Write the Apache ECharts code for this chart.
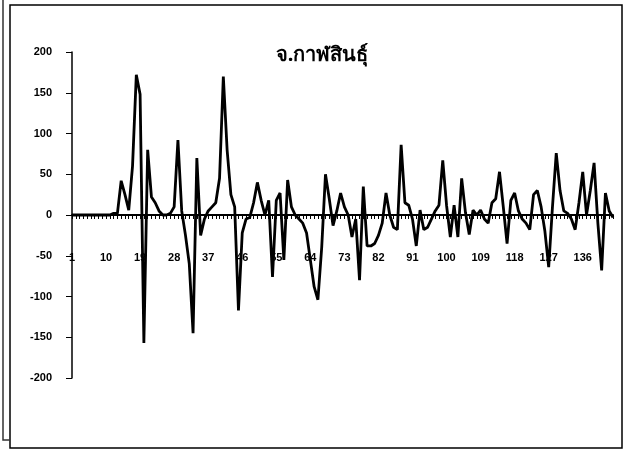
<!DOCTYPE html>
<html><head><meta charset="utf-8">
<script src="https://cdn.jsdelivr.net/npm/echarts@6/dist/echarts.min.js"></script>
<style>html,body{margin:0;padding:0;background:#fff}#c{width:627px;height:456px}</style>
</head><body><div id="c"></div>
<script>
const title = "จ.กาฬสินธุ์";
const yTicks = [-200, -150, -100, -50, 0, 50, 100, 150, 200];
const values = [
  0,0,0,0,0,0,0,0,0,0,
  0,2,2,42,25,6,60,172,148,-157,
  80,22,15,5,0,0,2,10,92,5,
  -25,-60,-145,70,-25,-5,5,10,15,45,
  170,80,25,10,-117,-22,-5,-3,15,40,
  18,0,18,-76,18,27,-55,43,10,0,
  -5,-10,-22,-55,-88,-104,-40,50,20,-13,
  5,27,10,0,-27,-5,-80,35,-38,-38,
  -35,-25,-10,27,0,-15,-18,86,15,12,
  -5,-38,6,-18,-15,-5,5,12,67,12,
  -27,12,-27,45,3,-24,6,0,6,-5,
  -10,15,20,53,10,-35,18,27,5,-5,
  -10,-18,25,30,10,-20,-64,10,76,30,
  5,2,-5,-18,15,53,0,30,64,-10,
  -68,27,5,-3
];
const categories = values.map((_, i) => String(i + 1));

const chart = echarts.init(document.getElementById('c'), null, {renderer: 'canvas'});
chart.setOption({
  animation: false,
  backgroundColor: '#fff',
  title: {
    text: title, left: 317, top: 40, textAlign: 'center',
    textStyle: {fontSize: 20, fontWeight: 'bold', color: '#000', fontFamily: 'Noto Sans, sans-serif'}
  },
  graphic: [
    {type: 'rect', shape: {x: 10, y: 5, width: 612, height: 443}, style: {fill: 'none', stroke: '#000', lineWidth: 1.5}},
    {type: 'polyline', shape: {points: [[3, 0], [3, 440], [10, 440]]}, style: {fill: 'none', stroke: '#333', lineWidth: 1.5}}
  ],
  grid: {left: 72, right: 14, top: 52, bottom: 78},
  xAxis: {
    type: 'category', data: categories, boundaryGap: false,
    position: 'bottom', offset: -163,
    axisLine: {onZero: false, lineStyle: {color: '#000', width: 2}},
    axisTick: {interval: 0, length: 4, lineStyle: {color: '#000'}},
    axisLabel: {interval: 8, color: '#000', fontSize: 11, fontFamily: 'Liberation Sans, Arial', fontWeight: 'bold', margin: 37}
  },
  yAxis: {
    type: 'value', min: -200, max: 200, interval: 50,
    axisLine: {show: true, lineStyle: {color: '#000', width: 1.5}},
    axisTick: {show: true, length: 6, lineStyle: {color: '#000'}},
    splitLine: {show: false},
    axisLabel: {color: '#000', fontSize: 11, fontFamily: 'Liberation Sans, Arial', fontWeight: 'bold', margin: 20}
  },
  series: [{
    type: 'line', data: values, symbol: 'none',
    lineStyle: {color: '#000', width: 2.8}
  }]
});
</script></body></html>
